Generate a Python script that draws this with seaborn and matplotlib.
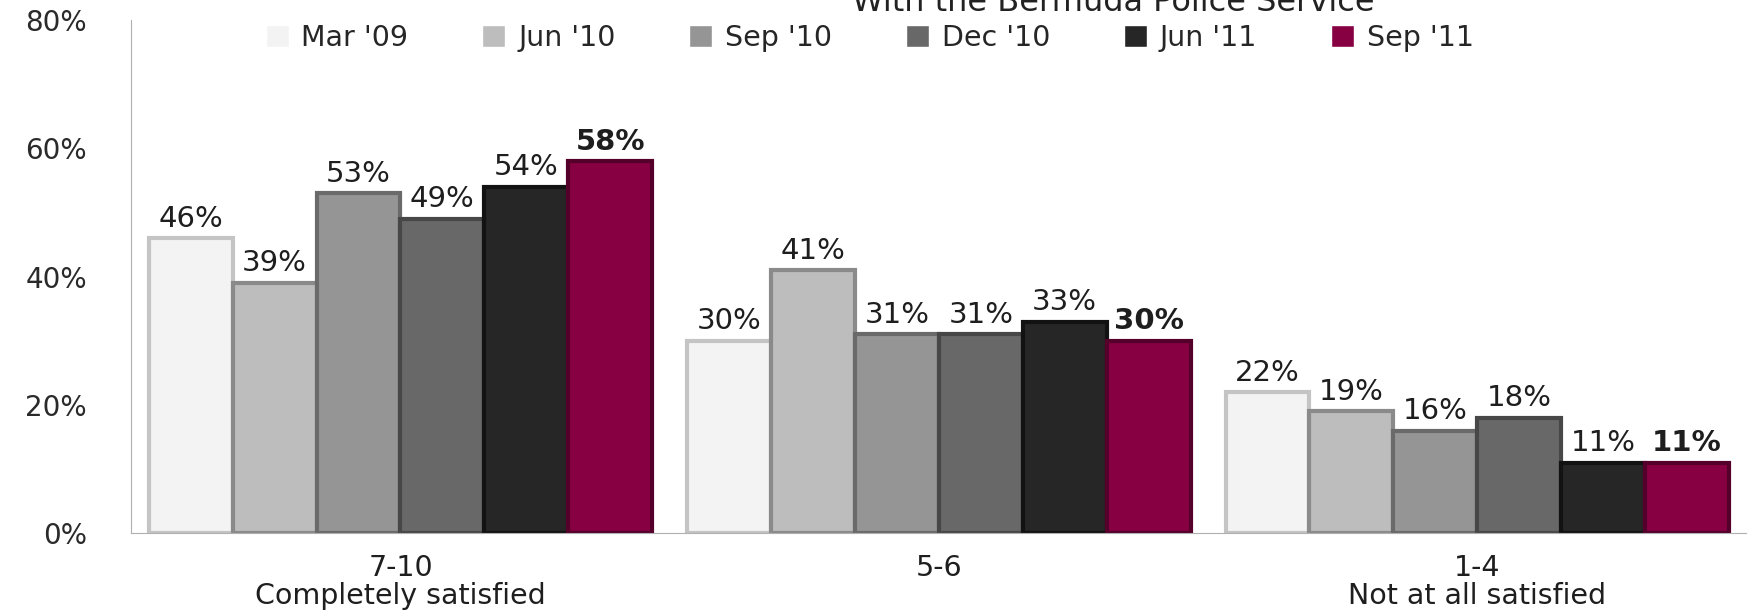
import matplotlib.pyplot as plt
import numpy as np
import pandas as pd
import seaborn as sns

categories = ["7-10\nCompletely satisfied", "5-6", "1-4\nNot at all satisfied"]
periods = ["Mar '09", "Jun '10", "Sep '10", "Dec '10", "Jun '11", "Sep '11"]
mar_09 = [46, 30, 22]
jun_10 = [39, 41, 19]
sep_10 = [53, 31, 16]
dec_10 = [49, 31, 18]
jun_11 = [54, 33, 11]
sep_11 = [58, 30, 11]
colors = ["#f3f3f3", "#bdbdbd", "#959595", "#686868", "#262626", "#870042"]
edges = ["#c4c4c4", "#8a8a8a", "#6a6a6a", "#474747", "#121212", "#55002a"]

series = [mar_09, jun_10, sep_10, dec_10, jun_11, sep_11]
df = pd.DataFrame(
    [(c, p, v) for p, vals in zip(periods, series) for c, v in zip(categories, vals)],
    columns=["category", "period", "value"],
)

sns.set_style("white")
plt.rcParams["font.family"] = ["DejaVu Sans"]

fig = plt.figure(figsize=(17.5, 6.1), dpi=100)
ax = fig.add_axes([0.075, 0.126, 0.923, 0.841])

sns.barplot(
    data=df, x="category", y="value", hue="period", order=categories,
    hue_order=periods, palette=colors, width=0.935, gap=0, saturation=1,
    ax=ax, legend=True,
)

for i, container in enumerate(ax.containers):
    for bar in container:
        bar.set_edgecolor(edges[i])
        bar.set_linewidth(3)
    weight = "bold" if i == len(ax.containers) - 1 else "normal"
    ax.bar_label(container, labels=[f"{v:.0f}%" for v in container.datavalues],
                 padding=4, fontsize=21, color="#1e1e1e", fontweight=weight)

ax.set_ylim(0, 80)
ax.set_yticks(np.arange(0, 81, 20))
ax.set_yticklabels([f"{t}%" for t in range(0, 81, 20)], fontsize=20, color="#2a2a2a")
ax.set_xlim(-0.5, 2.5)
ax.set_xticks([0, 1, 2])
ax.set_xticklabels(categories, fontsize=20.5, color="#1e1e1e", linespacing=1.0)
ax.set_xticks([0.5, 1.5, 2.5], minor=True)
ax.tick_params(axis="x", which="major", length=0, pad=15)
ax.tick_params(axis="x", which="minor", length=10, color="#b0b0b0", direction="out")
ax.tick_params(axis="y", length=10, color="#b0b0b0", direction="out", pad=22)
ax.set_xlabel("")
ax.set_ylabel("")
sns.despine(ax=ax, top=True, right=True)
ax.spines["left"].set_color("#b0b0b0")
ax.spines["bottom"].set_color("#b0b0b0")

handles, labels = ax.get_legend_handles_labels()
ax.legend_.remove()
fig.legend(handles, labels, loc="center", bbox_to_anchor=(0.497, 0.938), ncol=6,
           frameon=False, fontsize=20.5, handlelength=0.8, handleheight=0.8,
           columnspacing=2.6, handletextpad=0.45)

fig.text(0.636, 0.982, "With the Bermuda Police Service", ha="center",
         va="baseline", fontsize=23, color="#222222")

fig.savefig("out.png", dpi=100)
